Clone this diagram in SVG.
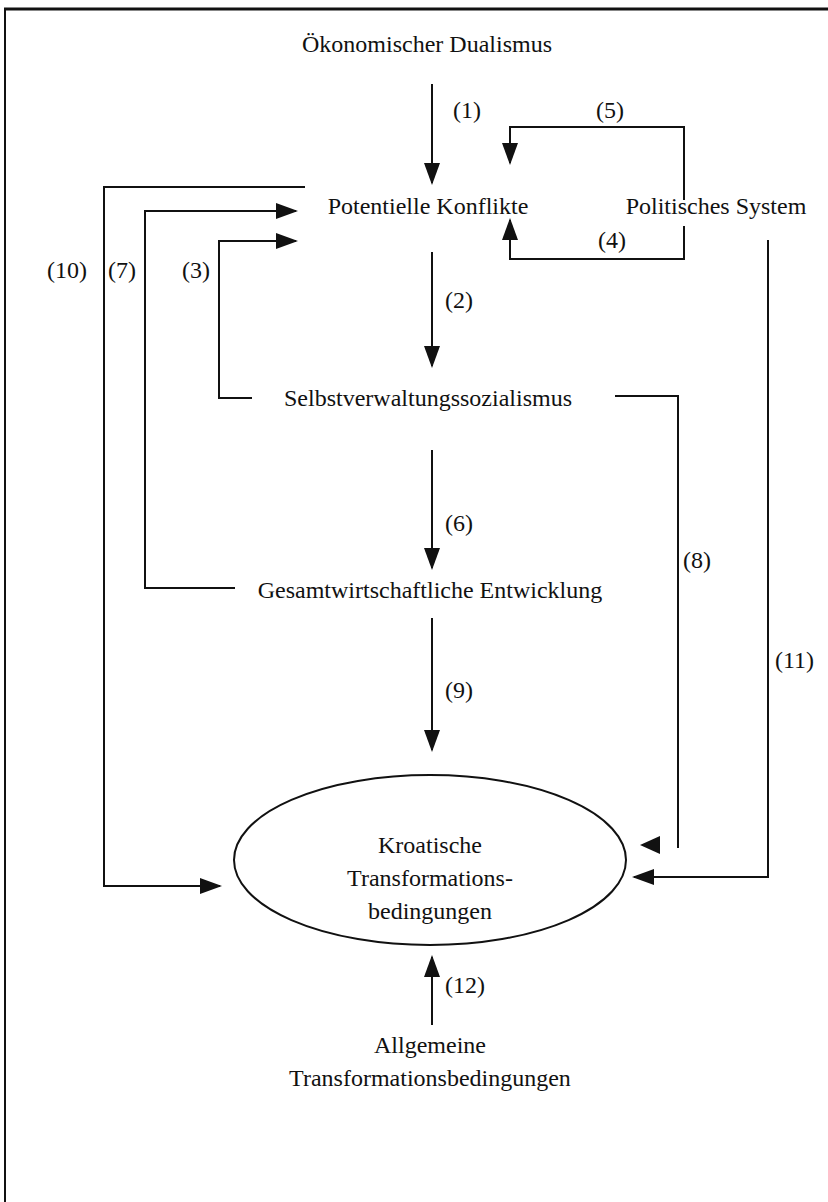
<svg xmlns="http://www.w3.org/2000/svg" width="828" height="1202" viewBox="0 0 828 1202">
<style>
text{font-family:"Liberation Serif","Times New Roman",serif;font-size:24px;fill:#111}
.c{text-anchor:middle}
.ln{fill:none;stroke:#111;stroke-width:2}
.ah{fill:#111}
</style>
<defs>
<marker id="arr" markerUnits="userSpaceOnUse" viewBox="0 0 22 16" markerWidth="22" markerHeight="16" refX="20" refY="8" orient="auto">
<path d="M0,0 L22,8 L0,16 z" fill="#111"/>
</marker>
</defs>
<rect width="828" height="1202" fill="#fff"/>
<g id="frame">
<line x1="4" y1="9" x2="828" y2="9" stroke="#111" stroke-width="3"/>
<line x1="5" y1="8" x2="5" y2="1202" stroke="#111" stroke-width="2"/>
</g>
<g id="connectors">
<path class="ln" d="M432,84 V183" marker-end="url(#arr)"/>
<path class="ln" d="M684,200 V127 H510 V163" marker-end="url(#arr)"/>
<path class="ln" d="M684,226 V259 H510 V220" marker-end="url(#arr)"/>
<path class="ln" d="M305,187 H104 V886 H220" marker-end="url(#arr)"/>
<path class="ln" d="M235,588 H145 V211 H296" marker-end="url(#arr)"/>
<path class="ln" d="M252,398 H219 V241 H296" marker-end="url(#arr)"/>
<path class="ln" d="M432,252 V366" marker-end="url(#arr)"/>
<path class="ln" d="M432,450 V568" marker-end="url(#arr)"/>
<path class="ln" d="M432,618 V750" marker-end="url(#arr)"/>
<path class="ln" d="M615,396 H678 V848"/>
<polygon class="ah" points="640,845 660,836 660,854"/>
<path class="ln" d="M768,240 V877 H634" marker-end="url(#arr)"/>
<path class="ln" d="M432,1025 V957" marker-end="url(#arr)"/>
<text x="453" y="118">(1)</text>
<text x="596" y="118">(5)</text>
<text x="598" y="248">(4)</text>
<text x="47" y="278">(10)</text>
<text x="108" y="278">(7)</text>
<text x="182" y="278">(3)</text>
<text x="445" y="308">(2)</text>
<text x="445" y="531">(6)</text>
<text x="683" y="568">(8)</text>
<text x="775" y="668">(11)</text>
<text x="445" y="698">(9)</text>
<text x="445" y="993">(12)</text>
</g>
<g id="n-oekonomischer"><text class="c" x="427" y="52">Ökonomischer Dualismus</text></g>
<g id="n-konflikte"><text class="c" x="428" y="214">Potentielle Konflikte</text></g>
<g id="n-politisch"><text class="c" x="716" y="214">Politisches System</text></g>
<g id="n-selbst"><text class="c" x="428" y="406">Selbstverwaltungssozialismus</text></g>
<g id="n-gesamt"><text class="c" x="430" y="598">Gesamtwirtschaftliche Entwicklung</text></g>
<g id="n-kroatisch">
<ellipse cx="430" cy="860" rx="196" ry="85" fill="none" stroke="#111" stroke-width="2"/>
<text class="c" x="430" y="853">Kroatische</text>
<text class="c" x="430" y="886">Transformations-</text>
<text class="c" x="430" y="919">bedingungen</text>
</g>
<g id="n-allgemein">
<text class="c" x="430" y="1053">Allgemeine</text>
<text class="c" x="430" y="1086">Transformationsbedingungen</text>
</g>
</svg>
